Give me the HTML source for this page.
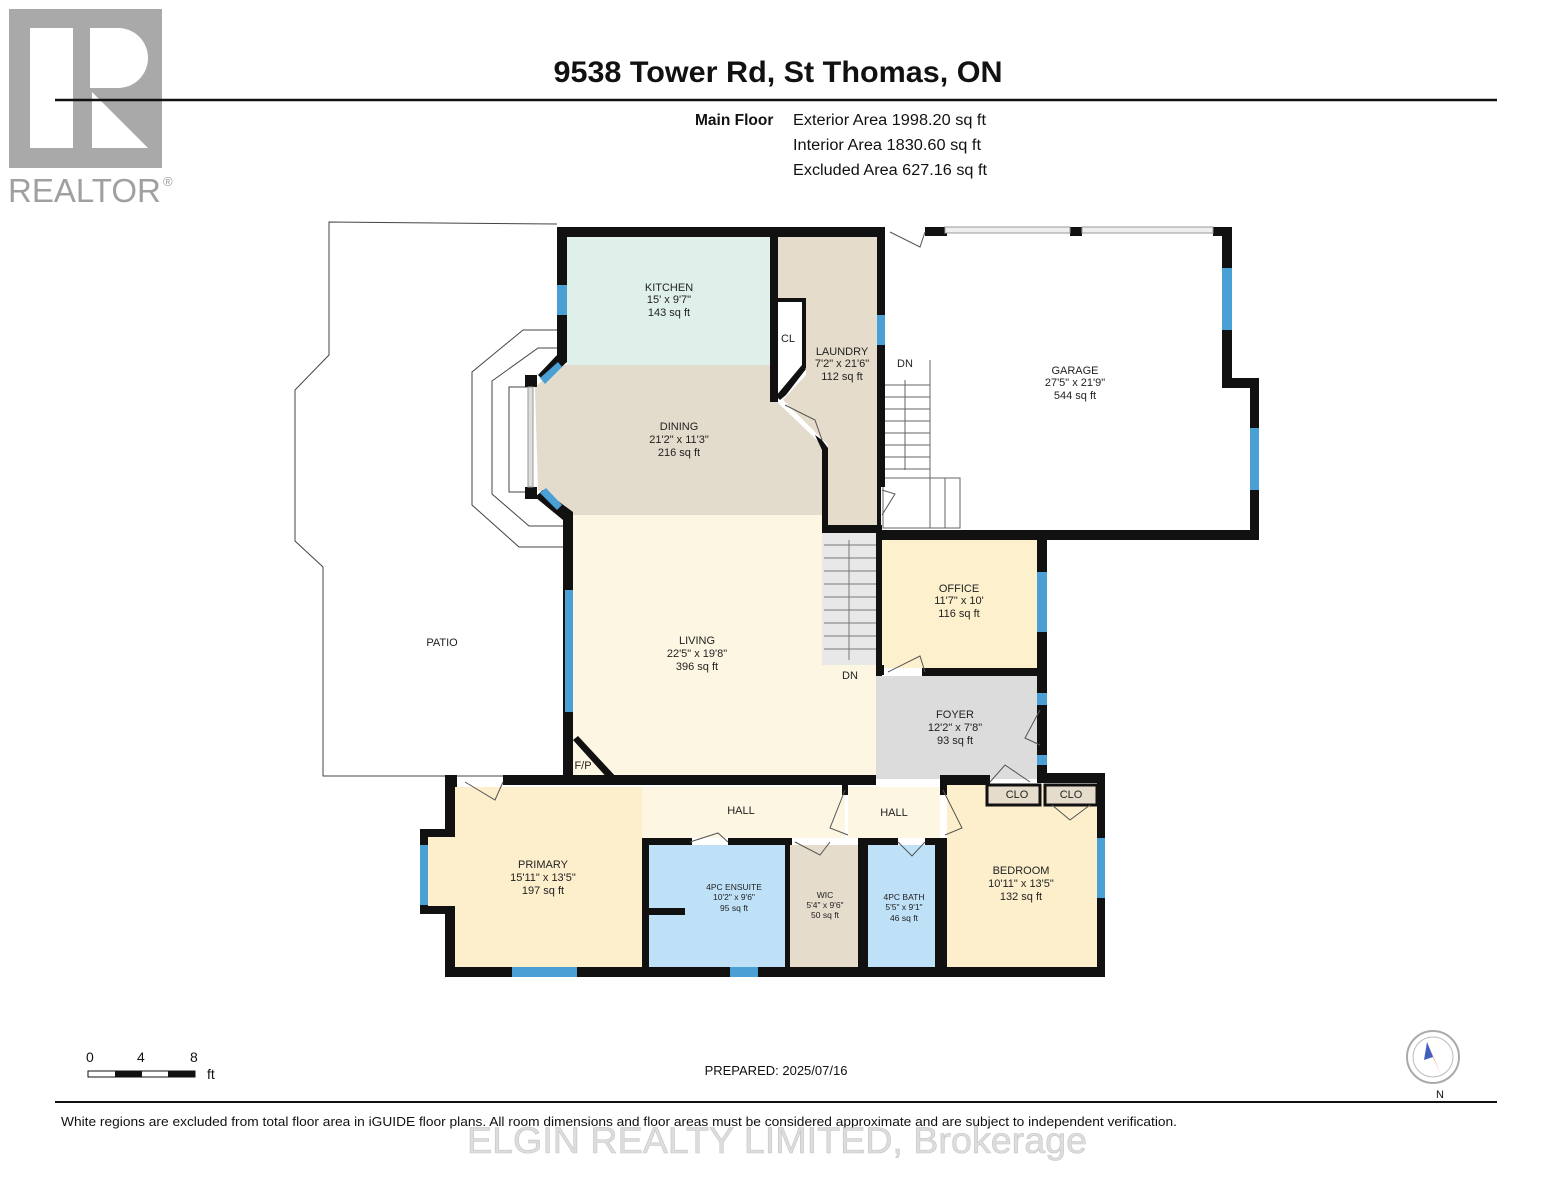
<!DOCTYPE html>
<html><head><meta charset="utf-8"><style>
html,body{margin:0;padding:0;background:#fff;}
svg{display:block;font-family:"Liberation Sans",Arial,sans-serif;}
</style></head><body>
<svg width="1553" height="1200" viewBox="0 0 1553 1200" xmlns="http://www.w3.org/2000/svg">
<!-- Realtor logo -->
<rect x="9" y="9" width="153" height="159" fill="#a9a9a9"/>
<rect x="30" y="28" width="43" height="120" fill="#fff"/>
<path d="M90 28 H118 A30 30 0 0 1 118 88 H90 Z" fill="#fff"/>
<path d="M92 92 L148 148 H92 Z" fill="#fff"/>
<text x="8" y="202" font-size="33" fill="#a0a0a0">REALTOR</text>
<text x="163" y="186" font-size="13" fill="#a0a0a0">®</text>
<line x1="55" y1="100" x2="1497" y2="100" stroke="#111" stroke-width="2.5"/>
<text x="778" y="82" font-size="30" font-weight="bold" text-anchor="middle" fill="#111" textLength="449" lengthAdjust="spacingAndGlyphs">9538 Tower Rd, St Thomas, ON</text>
<text x="695" y="125" font-size="15.5" font-weight="bold" fill="#111">Main Floor</text>
<text x="793" y="125" font-size="15.5" fill="#111" textLength="193" lengthAdjust="spacingAndGlyphs">Exterior Area 1998.20 sq ft</text>
<text x="793" y="150" font-size="15.5" fill="#111" textLength="188" lengthAdjust="spacingAndGlyphs">Interior Area 1830.60 sq ft</text>
<text x="793" y="175" font-size="15.5" fill="#111" textLength="194" lengthAdjust="spacingAndGlyphs">Excluded Area 627.16 sq ft</text>

<!-- Patio -->
<polyline points="557,224 329,222 329,355 295,390 295,541 323,567 323,776 560,776" fill="none" stroke="#444" stroke-width="1"/>
<polyline points="557,330 523,330 472,372 472,505 519,547 563,547" fill="none" stroke="#444" stroke-width="1"/>
<polyline points="557,348 538,348 492,381 492,494 529,526 563,526" fill="none" stroke="#444" stroke-width="1"/>
<rect x="509" y="387" width="20" height="105" fill="none" stroke="#444" stroke-width="1"/>

<!-- Fills -->
<rect x="567" y="237" width="205" height="128" fill="#dff0ea"/>
<polygon points="560,365 775,365 775,400 822,445 822,515 573,515 538,490 535,387" fill="#e3dbcc"/>
<rect x="573" y="515" width="303" height="264" fill="#fdf6e3"/>
<polygon points="778,237 877,237 877,525 828,525 828,445 783,400 806,375 806,298 778,298" fill="#e6dccb"/>
<rect x="880" y="537" width="157" height="131" fill="#fdf0cc"/>
<rect x="876" y="676" width="161" height="103" fill="#dcdcdc"/>
<rect x="455" y="787" width="187" height="180" fill="#fdefcc"/>
<rect x="425" y="835" width="30" height="73" fill="#fdefcc"/>
<rect x="642" y="787" width="203" height="51" fill="#fdf6e3"/>
<rect x="848" y="787" width="92" height="51" fill="#fdf6e3"/>
<rect x="649" y="845" width="136" height="122" fill="#bfe1f7"/>
<rect x="790" y="845" width="68" height="122" fill="#e6dccb"/>
<rect x="868" y="845" width="67" height="122" fill="#bfe1f7"/>
<rect x="947" y="785" width="150" height="182" fill="#fdefcc"/>
<rect x="987" y="785" width="53" height="20" fill="#e6dccb" stroke="#111" stroke-width="3"/>
<rect x="1045" y="785" width="52" height="20" fill="#e6dccb" stroke="#111" stroke-width="3"/>

<!-- Stairs -->
<rect x="822" y="530" width="54" height="135" fill="#e8e8e8"/>
<g stroke="#777" stroke-width="1">
<line x1="824" y1="545" x2="876" y2="545"/><line x1="824" y1="558" x2="876" y2="558"/><line x1="824" y1="571" x2="876" y2="571"/><line x1="824" y1="584" x2="876" y2="584"/><line x1="824" y1="597" x2="876" y2="597"/><line x1="824" y1="610" x2="876" y2="610"/><line x1="824" y1="623" x2="876" y2="623"/><line x1="824" y1="636" x2="876" y2="636"/><line x1="824" y1="649" x2="876" y2="649"/>
<line x1="849" y1="540" x2="849" y2="660"/>
</g>
<g stroke="#666" stroke-width="1" fill="none">
<line x1="884" y1="385" x2="930" y2="385"/><line x1="884" y1="397" x2="930" y2="397"/><line x1="884" y1="409" x2="930" y2="409"/><line x1="884" y1="421" x2="930" y2="421"/><line x1="884" y1="433" x2="930" y2="433"/><line x1="884" y1="445" x2="930" y2="445"/><line x1="884" y1="457" x2="930" y2="457"/><line x1="884" y1="469" x2="930" y2="469"/>
<line x1="930" y1="360" x2="930" y2="478"/><line x1="905" y1="380" x2="905" y2="470"/>
<rect x="883" y="478" width="77" height="50"/><line x1="930" y1="478" x2="930" y2="528"/><line x1="945" y1="478" x2="945" y2="528"/>
</g>

<!-- Walls -->
<g fill="#111">
<rect x="557" y="227" width="328" height="10"/>
<rect x="557" y="227" width="10" height="135"/>
<polygon points="557,355 567,362 545,382 538,375"/>
<rect x="525" y="375" width="12" height="12"/>
<rect x="525" y="487" width="12" height="12"/>
<polygon points="535,497 543,490 573,512 563,520"/>
<rect x="563" y="512" width="10" height="270"/>
<rect x="770" y="237" width="8" height="165"/>
<rect x="778" y="298" width="28" height="4"/>
<rect x="802" y="298" width="4" height="70"/>
<polygon points="802,365 806,369 786,395 780,400 776,396"/>
<polygon points="815,435 822,440 828,448 828,525 822,525 822,450"/>
<rect x="822" y="525" width="60" height="8"/>
<rect x="877" y="227" width="8" height="260"/>
<rect x="877" y="487" width="4" height="50"/>
<rect x="925" y="227" width="22" height="9"/>
<rect x="1070" y="227" width="12" height="9"/>
<rect x="1213" y="227" width="19" height="9"/>
<rect x="1222" y="227" width="10" height="160"/>
<rect x="1222" y="378" width="36" height="10"/>
<rect x="1250" y="378" width="9" height="162"/>
<rect x="877" y="530" width="382" height="10"/>
<rect x="1037" y="535" width="10" height="245"/>
<rect x="876" y="533" width="6" height="143"/>
<rect x="922" y="668" width="115" height="8"/>
<rect x="876" y="665" width="8" height="10"/>
<rect x="445" y="775" width="12" height="12"/>
<rect x="503" y="775" width="373" height="10"/>
<rect x="940" y="775" width="50" height="10"/>
<rect x="1037" y="773" width="68" height="10"/>
<rect x="1097" y="773" width="8" height="204"/>
<rect x="445" y="775" width="10" height="60"/>
<rect x="445" y="906" width="10" height="71"/>
<rect x="420" y="829" width="35" height="8"/>
<rect x="420" y="829" width="8" height="85"/>
<rect x="420" y="906" width="35" height="8"/>
<rect x="445" y="967" width="660" height="10"/>
<rect x="642" y="838" width="7" height="129"/>
<rect x="642" y="838" width="50" height="7"/>
<rect x="728" y="838" width="64" height="7"/>
<rect x="785" y="838" width="5" height="129"/>
<rect x="649" y="908" width="36" height="7"/>
<rect x="858" y="838" width="10" height="129"/>
<rect x="858" y="838" width="40" height="7"/>
<rect x="925" y="838" width="22" height="7"/>
<rect x="935" y="838" width="12" height="129"/>
<rect x="940" y="785" width="7" height="10"/>
<rect x="842" y="785" width="6" height="10"/>
<polygon points="573,740 578,736 618,779 610,781"/>
</g>
<!-- windows -->
<g fill="#4a9fd4">
<rect x="557" y="285" width="10" height="30"/>
<rect x="565" y="590" width="8" height="122"/>
<rect x="877" y="315" width="8" height="30"/>
<rect x="1222" y="268" width="10" height="62"/>
<rect x="1250" y="428" width="9" height="62"/>
<rect x="1037" y="572" width="10" height="60"/>
<rect x="1037" y="693" width="10" height="12"/>
<rect x="1037" y="755" width="10" height="10"/>
<rect x="420" y="845" width="8" height="60"/>
<rect x="1097" y="838" width="8" height="60"/>
<rect x="512" y="967" width="65" height="10"/>
<rect x="730" y="967" width="28" height="10"/>
<polygon points="540,378 558,362 562,367 545,384"/>
<polygon points="540,493 546,488 562,505 557,510"/>
</g>
<rect x="528" y="387" width="5" height="100" fill="#ddd" stroke="#999" stroke-width="1"/>
<rect x="945" y="227" width="125" height="6" fill="#eee" stroke="#999" stroke-width="1"/>
<rect x="1082" y="227" width="131" height="6" fill="#eee" stroke="#999" stroke-width="1"/>
<!-- doors -->
<g fill="none" stroke="#555" stroke-width="1">
<path d="M890 232 L920 247 L925 232"/>
<path d="M465 782 L495 800 L503 782"/>
<path d="M888 672 L920 656 L925 672"/>
<path d="M690 842 L718 833 L728 842"/>
<path d="M795 842 L820 855 L830 842"/>
<path d="M898 842 L912 856 L925 842"/>
<path d="M1052 805 L1070 820 L1090 805"/>
<path d="M990 782 L1005 765 L1030 782"/>
<path d="M1040 710 L1025 738 L1040 745"/>
<path d="M943 790 L962 828 L945 835"/>
<path d="M845 790 L830 828 L848 835"/>
<path d="M785 405 L815 420 L822 440"/>
<path d="M882 490 L895 494 L882 515"/>
</g>

<!-- Labels -->
<g font-size="11" fill="#222" text-anchor="middle">
<text x="669" y="291">KITCHEN</text><text x="669" y="303">15' x 9'7"</text><text x="669" y="316">143 sq ft</text>
<text x="842" y="355">LAUNDRY</text><text x="842" y="367">7'2" x 21'6"</text><text x="842" y="380">112 sq ft</text>
<text x="788" y="342">CL</text>
<text x="679" y="430">DINING</text><text x="679" y="443">21'2" x 11'3"</text><text x="679" y="456">216 sq ft</text>
<text x="1075" y="374">GARAGE</text><text x="1075" y="386">27'5" x 21'9"</text><text x="1075" y="399">544 sq ft</text>
<text x="905" y="367">DN</text><text x="850" y="679">DN</text>
<text x="959" y="592">OFFICE</text><text x="959" y="604">11'7" x 10'</text><text x="959" y="617">116 sq ft</text>
<text x="442" y="646">PATIO</text>
<text x="697" y="644">LIVING</text><text x="697" y="657">22'5" x 19'8"</text><text x="697" y="670">396 sq ft</text>
<text x="955" y="718">FOYER</text><text x="955" y="731">12'2" x 7'8"</text><text x="955" y="744">93 sq ft</text>
<text x="583" y="769">F/P</text>
<text x="741" y="814">HALL</text><text x="894" y="816">HALL</text>
<text x="1017" y="798">CLO</text><text x="1071" y="798">CLO</text>
<text x="543" y="868">PRIMARY</text><text x="543" y="881">15'11" x 13'5"</text><text x="543" y="894">197 sq ft</text>
<text x="1021" y="874">BEDROOM</text><text x="1021" y="887">10'11" x 13'5"</text><text x="1021" y="900">132 sq ft</text>
</g>
<g font-size="8.5" fill="#222" text-anchor="middle">
<text x="734" y="890">4PC ENSUITE</text><text x="734" y="900">10'2" x 9'6"</text><text x="734" y="911">95 sq ft</text>
<text x="825" y="898">WIC</text><text x="825" y="908">5'4" x 9'6"</text><text x="825" y="918">50 sq ft</text>
<text x="904" y="900">4PC BATH</text><text x="904" y="910">5'5" x 9'1"</text><text x="904" y="921">46 sq ft</text>
</g>

<!-- footer -->
<g font-size="14" fill="#111">
<text x="86" y="1062">0</text><text x="137" y="1062">4</text><text x="190" y="1062">8</text>
<text x="207" y="1079">ft</text>
</g>
<rect x="88" y="1071" width="107" height="6" fill="#fff" stroke="#111" stroke-width="1"/>
<rect x="115" y="1071" width="27" height="6" fill="#111"/>
<rect x="168" y="1071" width="27" height="6" fill="#111"/>
<text x="776" y="1075" font-size="13" text-anchor="middle" fill="#111">PREPARED: 2025/07/16</text>
<circle cx="1433" cy="1057" r="26" fill="#fff" stroke="#aaa" stroke-width="2"/>
<circle cx="1433" cy="1057" r="20" fill="#fff" stroke="#bbb" stroke-width="1"/>
<polygon points="1427,1042 1441,1075 1433,1057" fill="#e03030"/>
<polygon points="1427,1042 1433,1057 1424,1060" fill="#4060c0"/>
<text x="1440" y="1098" font-size="11" text-anchor="middle" fill="#111">N</text>
<line x1="55" y1="1102" x2="1497" y2="1102" stroke="#111" stroke-width="2"/>
<text x="61" y="1126" font-size="13" fill="#111" textLength="1116" lengthAdjust="spacingAndGlyphs">White regions are excluded from total floor area in iGUIDE floor plans. All room dimensions and floor areas must be considered approximate and are subject to independent verification.</text>
<text x="777" y="1153" font-size="37" text-anchor="middle" fill="#d8d8d8" stroke="#bbb" stroke-width="0.6" opacity="0.85" textLength="620" lengthAdjust="spacingAndGlyphs">ELGIN REALTY LIMITED, Brokerage</text>
</svg>
</body></html>
